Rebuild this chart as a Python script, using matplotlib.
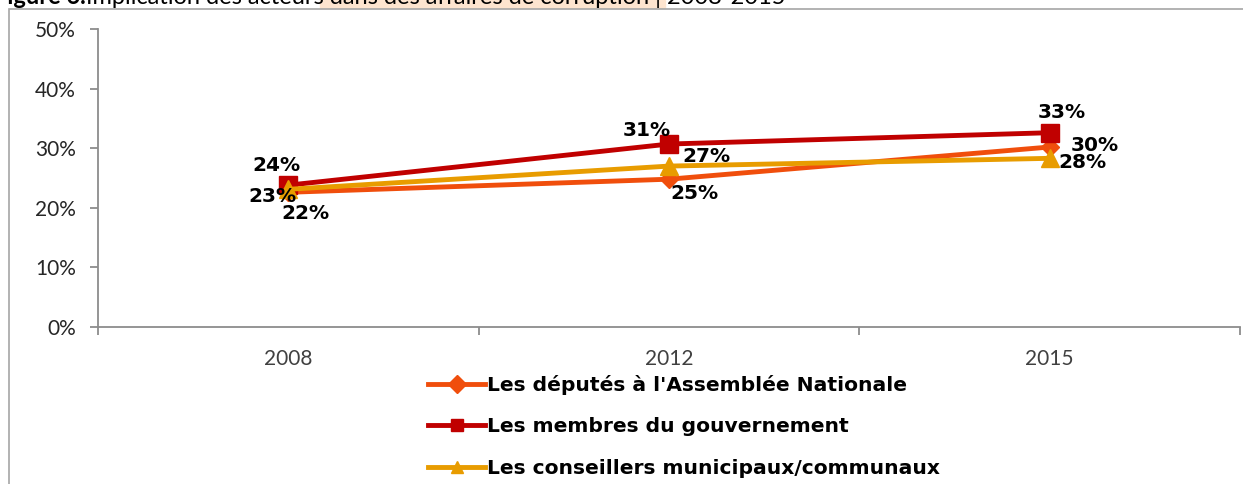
import matplotlib.pyplot as plt
import matplotlib.patches as mpatches
from matplotlib.ticker import FuncFormatter, FixedLocator

# data
years = ['2008', '2012', '2015']
deputes = [22.6, 24.8, 30.2]
membres = [23.8, 30.7, 32.6]
conseillers = [23.1, 27.0, 28.3]
deputes_lbl = ['22%', '25%', '30%']
membres_lbl = ['24%', '31%', '33%']
conseillers_lbl = ['23%', '27%', '28%']
series_names = ["Les députés à l'Assemblée Nationale",
                "Les membres du gouvernement",
                "Les conseillers municipaux/communaux"]

W, H = 1243, 484
fig = plt.figure(figsize=(W / 100, H / 100), dpi=100)
ax = fig.add_axes([98 / W, 157 / H, (1240 - 98) / W, 298 / H])

tick_font = 'Lato'
lbl_font = 'DejaVu Sans'
gray = '#8c8c8c'

# outer frame of the chart area
fig.patches.append(mpatches.Rectangle((9 / W, -0.2), 1.2, (H - 9) / H + 0.2,
                                      transform=fig.transFigure, fill=False,
                                      edgecolor='#a6a6a6', lw=1.2))
# title strip, cut off at the top of the picture
fig.patches.append(mpatches.Rectangle((320 / W, 1 - 8 / H), 345 / W, 8 / H,
                                      transform=fig.transFigure, color='#fde4cf',
                                      zorder=-1))
t1 = fig.text(-6 / W, 1 - 8 / H, "Figure 6.", fontsize=17, family=tick_font,
              fontweight='bold', va='bottom', ha='left', zorder=5)
ax.annotate("Implication des acteurs dans des affaires de corruption | 2008-2015",
            xy=(1, 0), xycoords=t1, fontsize=17, family=tick_font,
            va='bottom', ha='left', annotation_clip=False, zorder=5)

x = list(range(len(years)))
c_dep, c_mem, c_con = '#f04e0c', '#c00000', '#e89c00'
ax.plot(x, deputes, color=c_dep, lw=3.5, marker='D', ms=9, zorder=3, label=series_names[0])
ax.plot(x, membres, color=c_mem, lw=3.5, marker='s', ms=13, zorder=4, label=series_names[1])
ax.plot(x, conseillers, color=c_con, lw=3.5, marker='^', ms=13, zorder=5, label=series_names[2])

kw = dict(fontsize=14.5, fontweight='bold', family=lbl_font, zorder=6,
          textcoords='offset pixels', ha='center', va='center')
# label offsets in pixels (dx, dy) from each point
mem_off = [(-12, 20), (-22, 14), (12, 20)]
dep_off = [(17, -21), (25, -14), (45, 2)]
con_off = [(-16, -7), (37, 10), (33, -4)]
for i in x:
    ax.annotate(membres_lbl[i], (i, membres[i]), xytext=mem_off[i], **kw)
    ax.annotate(deputes_lbl[i], (i, deputes[i]), xytext=dep_off[i], **kw)
    ax.annotate(conseillers_lbl[i], (i, conseillers[i]), xytext=con_off[i], **kw)

ax.set_xlim(-0.5, 2.5)
ax.set_ylim(0, 50)
ax.yaxis.set_major_locator(FixedLocator([0, 10, 20, 30, 40, 50]))
ax.yaxis.set_major_formatter(FuncFormatter(lambda v, p: f'{v:.0f}%'))
ax.set_xticks(x)
ax.set_xticklabels(years)
ax.set_xticks([-0.5, 0.5, 1.5, 2.5], minor=True)
ax.tick_params(axis='x', which='major', length=0, pad=16, labelsize=15, labelcolor='#404040')
ax.tick_params(axis='x', which='minor', length=6, color=gray, width=1.3, direction='out')
ax.tick_params(axis='y', length=6, color=gray, width=1.3, labelsize=15, pad=10,
               labelcolor='#262626')
for lab in ax.get_xticklabels() + ax.get_yticklabels():
    lab.set_family(tick_font)
for s in ['top', 'right']:
    ax.spines[s].set_visible(False)
for s in ['left', 'bottom']:
    ax.spines[s].set_color(gray)
    ax.spines[s].set_linewidth(1.3)

leg = fig.legend(loc='upper left', bbox_to_anchor=(418 / W, (H - 365) / H), frameon=False,
                 prop={'family': lbl_font, 'weight': 'bold', 'size': 14.6},
                 handlelength=2.8, handletextpad=0.1, labelspacing=1.1, borderpad=0)
for line in leg.get_lines():
    line.set_markersize(9)

fig.savefig('out.png', dpi=100)
